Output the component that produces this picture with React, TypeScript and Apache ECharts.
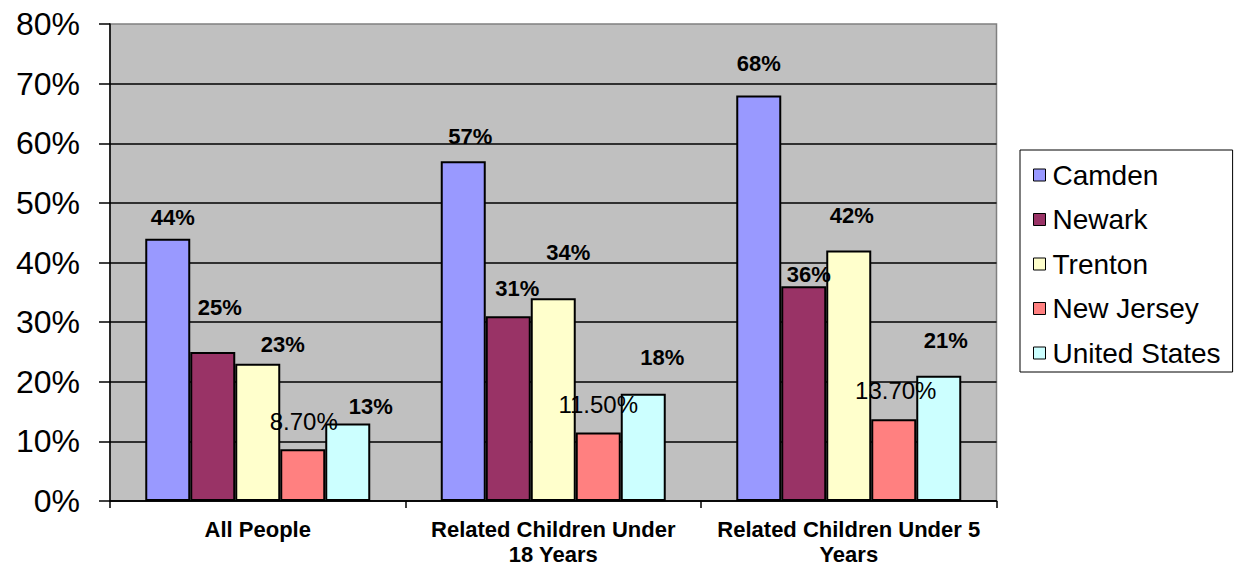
import React, { useEffect, useRef } from "react";
import * as echarts from "echarts";

// Poverty rates (%) by group
const categories = [
  "All People",
  "Related Children Under\n18 Years",
  "Related Children Under 5\nYears",
];
const seriesNames = ["Camden", "Newark", "Trenton", "New Jersey", "United States"];
const camden = [44, 57, 68];
const newark = [25, 31, 36];
const trenton = [23, 34, 42];
const newJersey = [8.7, 11.5, 13.7];
const unitedStates = [13, 18, 21];
const yTicks = [0, 10, 20, 30, 40, 50, 60, 70, 80];

const seriesValues = [camden, newark, trenton, newJersey, unitedStates];
const seriesColors = ["#9999FF", "#993366", "#FFFFCC", "#FF8080", "#CCFFFF"];

// Hand-placed label nudges [dx, dy] per series, per category
const labelNudge: number[][][] = [
  [[5, -5], [7, -9], [0, -16]],
  [[7, -28], [9, -11.5], [5, 4]],
  [[25, -3], [15, -30], [3, -19]],
  [[1, -11], [0, -10.5], [2, -11.5]],
  [[23, -1], [19, -20], [7, -19]],
];

const FONT = 'Arial, "Liberation Sans", sans-serif';

export default function App() {
  const ref = useRef<HTMLDivElement>(null);

  useEffect(() => {
    if (!ref.current) return;
    const chart = echarts.init(ref.current, undefined, { renderer: "svg" });

    const series = seriesNames.map((name, s) => {
      const precise = name === "New Jersey";
      return {
        name,
        type: "bar",
        barWidth: 45,
        barGap: "0%",
        itemStyle: {
          color: seriesColors[s],
          borderColor: "#000",
          borderWidth: 2,
        },
        label: {
          show: true,
          position: "top",
          distance: 5,
          color: "#000",
          fontFamily: FONT,
          fontWeight: precise ? "normal" : "bold",
          fontSize: precise ? 24 : 22,
          lineHeight: precise ? 24 : 22,
          formatter: (p: any) =>
            precise ? `${Number(p.value).toFixed(2)}%` : `${Math.round(p.value)}%`,
        },
        data: seriesValues[s].map((v, c) => ({
          value: v,
          label: { offset: labelNudge[s][c] },
        })),
      };
    });

    chart.setOption({
      animation: false,
      textStyle: { fontFamily: FONT, color: "#000" },
      grid: {
        left: 110,
        top: 24,
        right: 243.5,
        bottom: 66,
        show: true,
        backgroundColor: "#C0C0C0",
        borderColor: "#808080",
        borderWidth: 1.5,
        containLabel: false,
      },
      legend: {
        orient: "vertical",
        left: 1020,
        top: 150,
        data: seriesNames,
        icon: "rect",
        itemWidth: 12,
        itemHeight: 12,
        itemGap: 16.5,
        padding: [11, 12, 5, 13],
        borderColor: "#000",
        borderWidth: 1,
        backgroundColor: "#fff",
        itemStyle: { borderColor: "#000", borderWidth: 1 },
        textStyle: { fontFamily: FONT, fontSize: 28, color: "#000", padding: [0, 0, 0, 2] },
      },
      xAxis: {
        type: "category",
        data: categories,
        axisLine: { show: true, lineStyle: { color: "#000", width: 1.5 } },
        axisTick: { show: true, length: 7, lineStyle: { color: "#000", width: 1.5 } },
        axisLabel: {
          color: "#000",
          fontFamily: FONT,
          fontWeight: "bold",
          fontSize: 22,
          lineHeight: 25,
          margin: 16,
          interval: 0,
        },
      },
      yAxis: {
        type: "value",
        min: yTicks[0],
        max: yTicks[yTicks.length - 1],
        interval: yTicks[1] - yTicks[0],
        axisLine: { show: true, lineStyle: { color: "#000", width: 1.5 } },
        axisTick: { show: true, length: 11, lineStyle: { color: "#000", width: 1.5 } },
        axisLabel: {
          color: "#000",
          fontFamily: FONT,
          fontSize: 32,
          margin: 30,
          formatter: "{value}%",
        },
        splitLine: {
          show: true,
          showMaxLine: false,
          lineStyle: { color: "#000", width: 1.5 },
        },
      },
      series,
    });

    return () => chart.dispose();
  }, []);

  return (
    <div
      ref={ref}
      style={{ position: "fixed", left: 0, top: 0, width: 1240, height: 567, background: "#fff" }}
    />
  );
}
